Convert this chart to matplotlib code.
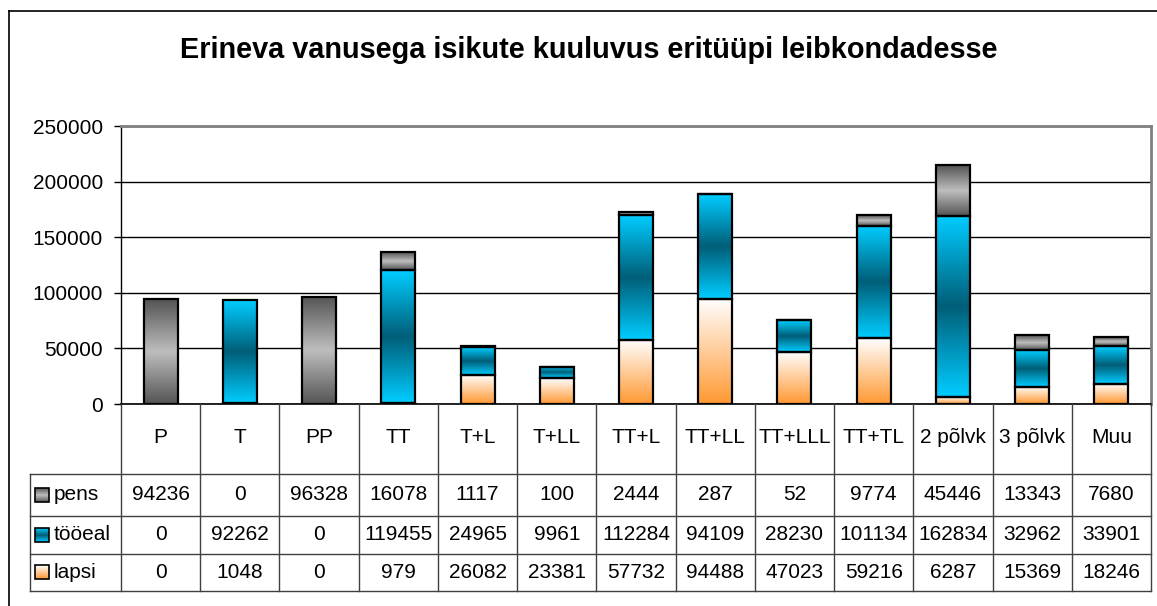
import numpy as np
import matplotlib.pyplot as plt
from matplotlib.patches import Rectangle
from matplotlib.lines import Line2D

plt.rcParams['font.family'] = ['Liberation Sans', 'DejaVu Sans']

# Data
categories = ['P', 'T', 'PP', 'TT', 'T+L', 'T+LL', 'TT+L', 'TT+LL', 'TT+LLL',
              'TT+TL', '2 põlvk', '3 põlvk', 'Muu']
pens = [94236, 0, 96328, 16078, 1117, 100, 2444, 287, 52, 9774, 45446, 13343, 7680]
tooeal = [0, 92262, 0, 119455, 24965, 9961, 112284, 94109, 28230, 101134,
          162834, 32962, 33901]
lapsi = [0, 1048, 0, 979, 26082, 23381, 57732, 94488, 47023, 59216, 6287,
         15369, 18246]
series_names = ['pens', 'tööeal', 'lapsi']
yticks = [0, 50000, 100000, 150000, 200000, 250000]

W, H = 1157, 606
FS = 15


def grad(stops, n=64):
    # stops: list of (pos, hex) from top to bottom
    pos = [p for p, c in stops]
    rgb = np.array([[int(c[i:i + 2], 16) / 255 for i in (1, 3, 5)] for p, c in stops])
    t = np.linspace(0, 1, n)
    return np.stack([np.interp(t, pos, rgb[:, k]) for k in range(3)], axis=1)


g_pens = grad([(0, '#555555'), (0.5, '#BEBEBE'), (1, '#555555')])
g_tooeal = grad([(0, '#00CCFF'), (0.5, '#005E78'), (1, '#00CCFF')])
g_lapsi = grad([(0, '#FFFFFF'), (1, '#FF9933')])
gradients = [g_pens, g_tooeal, g_lapsi]


def grad_box(ax, x0, x1, y0, y1, g, lw=1.6):
    ax.imshow(g[:, None, :], extent=(x0, x1, y0, y1), aspect='auto',
              origin='upper', interpolation='bilinear', zorder=3)
    ax.add_patch(Rectangle((x0, y0), x1 - x0, y1 - y0, fill=False,
                           ec='black', lw=lw, zorder=4))


fig = plt.figure(figsize=(W / 100, H / 100), dpi=100)

# outer chart border
fig.add_artist(Line2D([9 / W, 9 / W], [-0.1, 1 - 11 / H], color='black', lw=1.2))
fig.add_artist(Line2D([9 / W, 1.1], [1 - 11 / H, 1 - 11 / H], color='black', lw=1.2))

fig.text(589 / W, 1 - 50 / H, 'Erineva vanusega isikute kuuluvus eritüüpi leibkondadesse',
         ha='center', va='center', fontsize=20.8, fontweight='bold')

# bar axes
ax = fig.add_axes([121 / W, 1 - 404 / H, 1030 / W, 278 / H])
n = len(categories)
x = np.arange(n)
bw = 0.43
stacks = [lapsi, tooeal, pens]
stack_g = [g_lapsi, g_tooeal, g_pens]
bottom = np.zeros(n)
for vals, g in zip(stacks, stack_g):
    vals = np.array(vals, dtype=float)
    for i in range(n):
        if vals[i] > 0:
            grad_box(ax, x[i] - bw / 2, x[i] + bw / 2, bottom[i], bottom[i] + vals[i], g)
    bottom += vals

ax.set_xlim(-0.5, n - 0.5)
ax.set_ylim(0, 250000)
ax.set_yticks(yticks)
ax.set_yticklabels([str(v) for v in yticks], fontsize=FS)
ax.tick_params(axis='y', length=5, width=1, pad=8, colors='black')
ax.set_xticks([])
ax.set_axisbelow(True)
ax.yaxis.grid(True, color='black', lw=1)
for s in ['top', 'right']:
    ax.spines[s].set_color('#808080')
    ax.spines[s].set_linewidth(2)
ax.spines['left'].set_linewidth(1)
ax.spines['bottom'].set_linewidth(1.2)

# data table axes
colw = 1030 / n
leg_w = 91 / colw
tx = fig.add_axes([30 / W, 1 - 591 / H, 1121 / W, 187 / H])
unit = 187 / 4.8
tx.axis('off')
lc = '#404040'
row_top = [1.8, 2.87, 3.84]
row_bot = [2.87, 3.84, 4.8]
# vertical lines
for b in np.arange(n + 1) - 0.5:
    tx.plot([b, b], [0, 4.8], color=lc, lw=1, clip_on=False)
tx.plot([-0.5 - leg_w] * 2, [1.8, 4.8], color=lc, lw=1, clip_on=False)
# horizontal lines
for yv in [1.8, 2.87, 3.84, 4.8]:
    tx.plot([-0.5 - leg_w, n - 0.5], [yv, yv], color=lc, lw=1, clip_on=False)

for i, c in enumerate(categories):
    tx.text(i, 0.85, c, ha='center', va='center', fontsize=FS)

for r, (name, vals, g) in enumerate(zip(series_names, [pens, tooeal, lapsi], gradients)):
    yc = (row_top[r] + row_bot[r]) / 2
    kx0 = -0.5 - leg_w + 5 / colw
    kx1 = kx0 + 14 / colw
    ky0 = yc - 7 / unit
    ky1 = yc + 7 / unit
    tx.imshow(g[:, None, :], extent=(kx0, kx1, ky1, ky0), aspect='auto',
              origin='upper', interpolation='bilinear', zorder=3)
    tx.add_patch(Rectangle((kx0, ky0), kx1 - kx0, ky1 - ky0, fill=False,
                           ec='black', lw=1.2, zorder=4))
    tx.text(kx1 + 5 / colw, yc, name, ha='left', va='center', fontsize=FS)
    for i, v in enumerate(vals):
        tx.text(i, yc, str(v), ha='center', va='center', fontsize=FS)
tx.set_xlim(-0.5 - leg_w, n - 0.5)
tx.set_ylim(4.8, 0)

fig.savefig('out.png', dpi=100)
